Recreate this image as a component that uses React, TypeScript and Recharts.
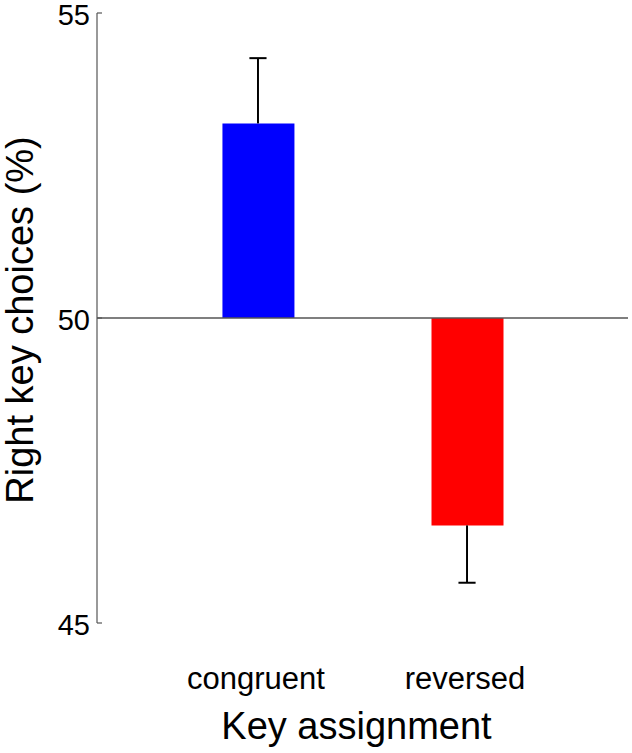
import { ComposedChart, Bar, Cell, XAxis, YAxis, ReferenceLine, Label } from 'recharts'

// Values (percent of right-key choices).
const categories = ['congruent', 'reversed']
const positions = [1, 2]
const means = [53.19, 46.6]
const errors = [1.07, 0.94]
const barColors = ['#0000FF', '#FF0000']
const yTicks = [45, 50, 55]

const BASE = 50
const CAP = 0.041 // half width of the error-bar cap, in x units
const FONT = '"Liberation Sans", Arial, Helvetica, sans-serif'
const AXIS = '#555555'

const data = positions.map((x, i) => ({ x, name: categories[i], mean: means[i], err: errors[i] }))

function YTick({ x, y, payload }: any) {
  return (
    <g>
      <line x1={x + 7} x2={x + 12} y1={y} y2={y} stroke={AXIS} strokeWidth={1.2} />
      <text x={x} y={y} dy="0.41em" textAnchor="end" fontSize={29} fill="#000" fontFamily={FONT}>
        {payload.value}
      </text>
    </g>
  )
}

function XTick({ x, y, payload }: any) {
  const idx = positions.indexOf(payload.value)
  return (
    <text x={x - 2} y={y} dy={66} textAnchor="middle" fontSize={31} fill="#000" fontFamily={FONT}>
      {categories[idx]}
    </text>
  )
}

function YLabel({ viewBox }: any) {
  const cx = viewBox.x + 33
  const cy = viewBox.y + viewBox.height / 2 + 2
  return (
    <text x={cx} y={cy} transform={`rotate(-90, ${cx}, ${cy})`} textAnchor="middle" fontSize={38} fill="#000" fontFamily={FONT}>
      Right key choices (%)
    </text>
  )
}

export default function App() {
  return (
    <div style={{ position: 'absolute', left: 0, top: 0, width: 632, height: 753, background: '#fff' }}>
      <ComposedChart width={632} height={753} data={data} margin={{ top: 13, right: 4, bottom: 0, left: 0 }}>
        <XAxis
          dataKey="x"
          type="number"
          domain={[0.23, 2.77]}
          ticks={positions}
          axisLine={false}
          tickLine={false}
          tickSize={0}
          tickMargin={0}
          tick={<XTick />}
          height={130}
          interval={0}
        >
          <Label
            value="Key assignment"
            position="insideBottom"
            offset={14}
            dx={-6}
            style={{ fontSize: 38, fill: '#000', fontFamily: FONT }}
          />
        </XAxis>
        <YAxis
          type="number"
          domain={[45, 55]}
          ticks={yTicks}
          width={97}
          axisLine={{ stroke: AXIS, strokeWidth: 1.2 }}
          tickLine={false}
          tickSize={0}
          tickMargin={7}
          tick={<YTick />}
          interval={0}
        >
          <Label content={<YLabel />} />
        </YAxis>
        <Bar dataKey={(d: any) => [BASE, d.mean]} barSize={72} isAnimationActive={false}>
          {data.map((d, i) => (
            <Cell key={d.name} fill={barColors[i]} />
          ))}
        </Bar>
        <ReferenceLine y={BASE} stroke={AXIS} strokeWidth={1.3} />
        {data.map(d => {
          const end = d.mean > BASE ? d.mean + d.err : d.mean - d.err
          return [
            <ReferenceLine
              key={`${d.name}-w`}
              segment={[{ x: d.x, y: d.mean }, { x: d.x, y: end }]}
              stroke="#000"
              strokeWidth={2}
            />,
            <ReferenceLine
              key={`${d.name}-c`}
              segment={[{ x: d.x - CAP, y: end }, { x: d.x + CAP, y: end }]}
              stroke="#000"
              strokeWidth={2}
            />,
          ]
        })}
      </ComposedChart>
    </div>
  )
}
